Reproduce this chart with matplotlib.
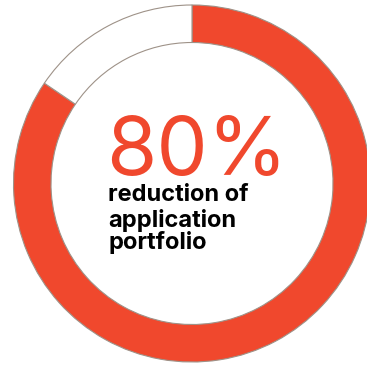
import matplotlib
matplotlib.use("Agg")
import matplotlib.pyplot as plt

# Data
labels = ["Reduced", "Remaining"]
values = [84.5, 15.5]
big_label = "80%"
caption_lines = ["reduction of", "application", "portfolio"]

RED = "#F0482D"
EDGE = "#9E9288"

W, H = 367, 366
fig = plt.figure(figsize=(W / 100, H / 100), dpi=100)
ax = fig.add_axes([0, 0, 1, 1])

cx, cy = 192, H - 183.5
R, ring_w = 178.5, 37.5
ax.pie(values, colors=[RED, "white"], startangle=90, counterclock=False,
       center=(cx, cy), radius=R, frame=True,
       wedgeprops=dict(width=ring_w, edgecolor=EDGE, linewidth=0.8))
ax.set_xlim(0, W)
ax.set_ylim(0, H)
ax.set_aspect("equal")
ax.axis("off")

ax.text(106, H - 175, big_label, color=RED, fontsize=58.5, family="Inter",
        ha="left", va="baseline")
baselines = [201, 226.5, 249]
for line, b in zip(caption_lines, baselines):
    ax.text(108, H - b, line, color="black", fontsize=17, family="Inter",
            fontweight="bold", ha="left", va="baseline")

fig.savefig("out.png", dpi=100)
